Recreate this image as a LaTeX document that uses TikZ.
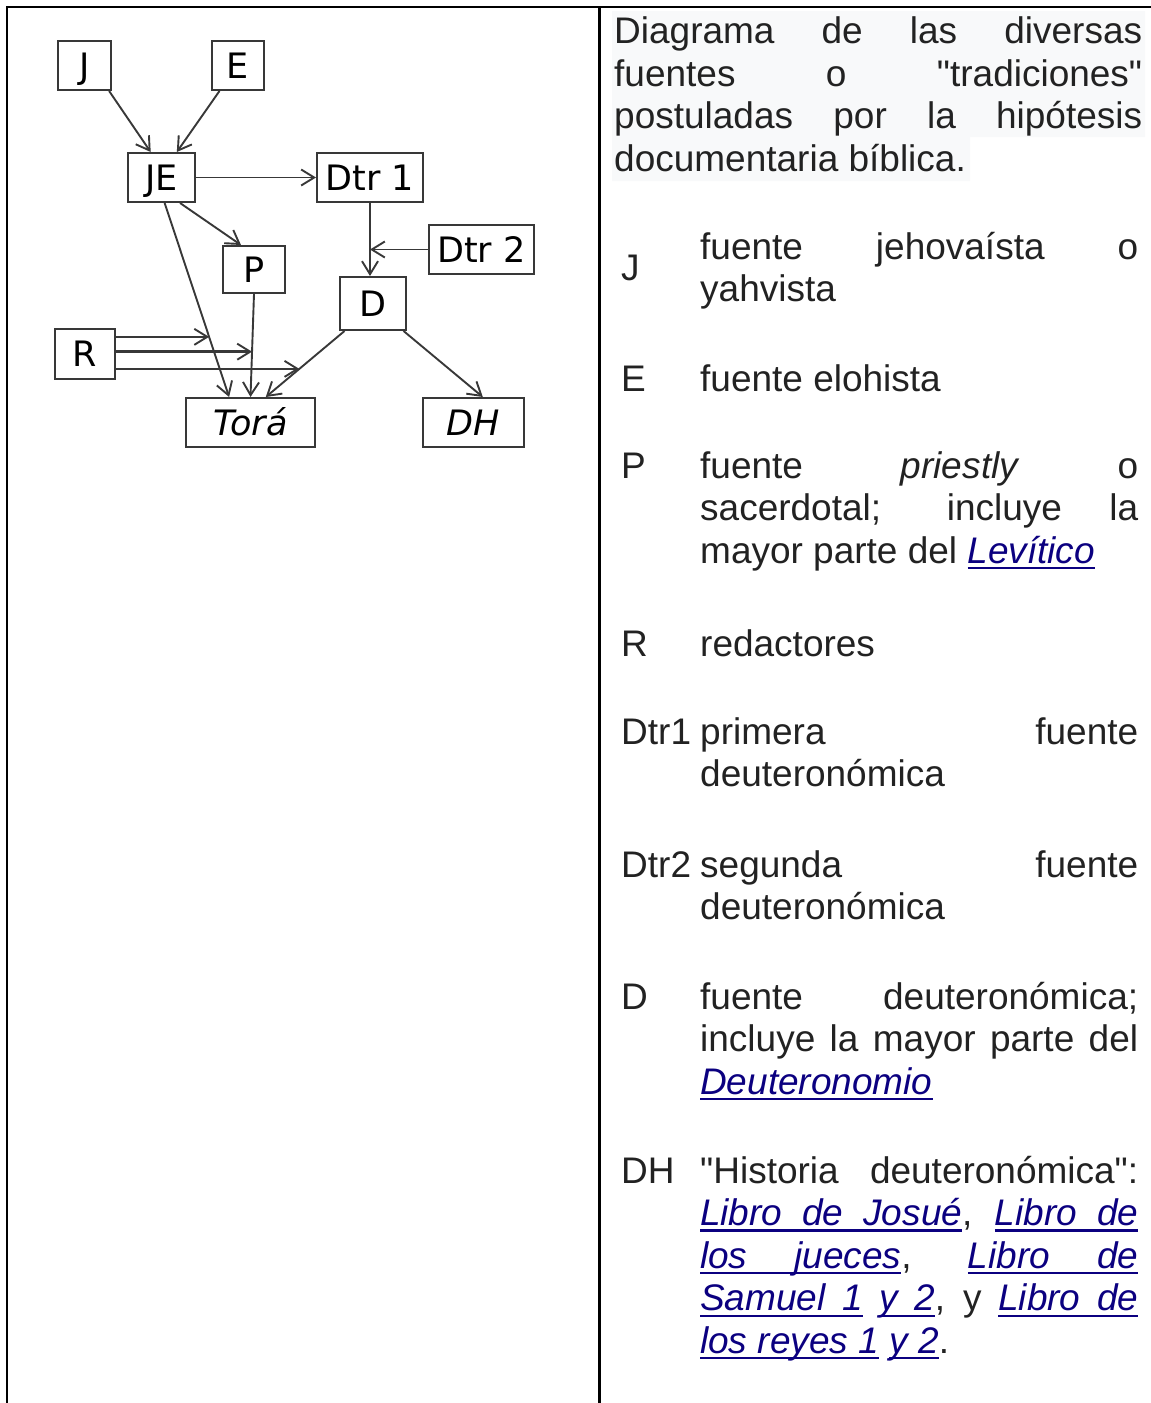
\documentclass[tikz,border=0pt]{standalone}
\usepackage{fontspec}
\setmainfont{Liberation Sans}
\newfontfamily\txtfont{Liberation Sans}
\newfontfamily\diafont{DejaVu Sans}
\usetikzlibrary{arrows.meta,positioning}

\definecolor{txt}{HTML}{222222}
\definecolor{lnk}{HTML}{0B0080}
\definecolor{hl}{HTML}{F8F9FA}
\definecolor{ln}{HTML}{383838}

% underlined link words, spaces stay stretchable
\newcommand{\ulw}[1]{\setbox0\hbox{#1}\rlap{\vrule width\wd0 height -3.8pt depth 6pt}\box0}
\newcommand{\us}{\leaders\hrule height -3.8pt depth 6pt\hskip\fontdimen2\font plus\fontdimen3\font minus\fontdimen4\font}
\def\ulwords#1 #2\relax{\ulw{#1}\ifx\relax#2\relax\else\us\ulwords#2\relax\fi}
\newcommand{\lnk}[1]{{\color{lnk}\itshape\ulwords#1 \relax}}
\newcommand{\jl}[1]{\makebox[\linewidth][s]{#1}}
\newcommand{\desc}[2]{\begin{minipage}[t]{#1}#2\end{minipage}}

\tikzset{
	box/.style={draw=ln,line width=2pt,rectangle,inner sep=0pt,
		font=\diafont\fontsize{35}{40}\selectfont,text height=25.5pt,text depth=0pt},
	arr/.style={draw=ln,line width=1.9pt,
		-{Straight Barb[length=13pt,width=16pt,line width=1.9pt]}},
	lbl/.style={anchor=base west,inner sep=0pt,text=txt,
		font=\txtfont\fontsize{37}{42.6}\selectfont},
	rule/.style={line width=2.5pt,black}
}

\begin{document}
\begin{tikzpicture}[x=1pt,y=-1pt]
\useasboundingbox (0,0) rectangle (1151,1403);
%Tabelle
\fill[hl] (612,11) -- (1145,11) -- (1145,137) -- (970,137) -- (970,181) -- (612,181) -- cycle;
\draw[rule] (6,7) -- (1151,7);
\draw[rule] (7,6) -- (7,1403);
\draw[rule] (599.5,6) -- (599.5,1403);
%Diagramm
\node[box,minimum width=53pt,minimum height=49pt] (J) at (84.5,65.5) {J};
\node[box,minimum width=52pt,minimum height=49pt] (E) at (238,65.5) {E};
\node[box,minimum width=67pt,minimum height=49pt] (JE) at (161.5,177.5) {JE};
\node[box,minimum width=106pt,minimum height=49pt] (Dtr1) at (370,177.5) {Dtr 1};
\node[box,minimum width=105pt,minimum height=49pt] (Dtr2) at (481.5,249.5) {Dtr 2};
\node[box,minimum width=62pt,minimum height=47pt] (P) at (254,269.5) {P};
\node[box,minimum width=66pt,minimum height=53pt] (D) at (373,303.5) {D};
\node[box,minimum width=60pt,minimum height=50pt] (R) at (85,354) {R};
\node[box,minimum width=129pt,minimum height=49pt] (Tora) at (250.5,422.5) {\itshape Torá};
\node[box,minimum width=101pt,minimum height=49pt] (DH) at (473.5,422.5) {\itshape DH};
\coordinate (dm) at (Dtr1.south |- Dtr2.west);
\draw[arr] (J.-46) -- (JE.113);
\draw[arr] (E.-126) -- (JE.59);
\draw[arr] (JE.east) -- (Dtr1.west);
\draw[arr] (JE.-54) -- (P.118);
\draw[arr] (JE.-83) -- coordinate[pos=0.69] (r1) (Tora.130);
\draw[arr] (P.south) -- coordinate[pos=0.56] (r2) (Tora.north);
\draw[arr] (Dtr1.south) -- (Dtr1.south |- D.north);
\draw[arr] (Dtr2.west) -- (dm);
\draw[arr] (D.-136) -- coordinate[pos=0.574] (r3) (Tora.59);
\draw[arr] (D.-42) -- (DH.70);
\draw[arr,line width=2.4pt] (R.east |- r1) -- (r1);
\draw[arr,line width=2.4pt] (R.east |- r2) -- (r2);
\draw[arr] (R.east |- r3) -- (r3);
%Legende
\node[lbl] (intro) at (614,43.5) {\desc{528pt}{\jl{Diagrama de las diversas}\\
	\jl{fuentes o "tradiciones"}\\
	\jl{postuladas por la hipótesis}\\
	documentaria bíblica.}};
\node[lbl] (kJ) at (621,280) {J};
\node[lbl] (dJ) at (700,259) {\desc{438pt}{\jl{fuente jehovaísta o}\\yahvista}};
\node[lbl] (kE) at (621,391) {E};
\node[lbl] (dE) at (700,391) {fuente elohista};
\node[lbl] (kP) at (621,478) {P};
\node[lbl] (dP) at (700,478) {\desc{438pt}{\jl{fuente \textit{priestly} o}\\
	\jl{sacerdotal; incluye la}\\
	mayor parte del \lnk{Levítico}}};
\node[lbl] (kR) at (621,656) {R};
\node[lbl] (dR) at (700,656) {redactores};
\node[lbl] (kDtr1) at (621,744) {Dtr1};
\node[lbl] (dDtr1) at (700,744) {\desc{438pt}{\jl{primera fuente}\\deuteronómica}};
\node[lbl] (kDtr2) at (621,877) {Dtr2};
\node[lbl] (dDtr2) at (700,877) {\desc{438pt}{\jl{segunda fuente}\\deuteronómica}};
\node[lbl] (kD) at (621,1009) {D};
\node[lbl] (dD) at (700,1009) {\desc{438pt}{\jl{fuente deuteronómica;}\\
	\jl{incluye la mayor parte del}\\
	\lnk{Deuteronomio}}};
\node[lbl] (kDH) at (621,1183) {DH};
\node[lbl] (dDH) at (700,1183) {\desc{438pt}{\jl{"Historia deuteronómica":}\\
	\jl{\lnk{Libro de Josué}, \lnk{Libro de}}\\
	\jl{\lnk{los jueces}, \lnk{Libro de}}\\
	\jl{\lnk{Samuel 1} \lnk{y 2}, y \lnk{Libro de}}\\
	\lnk{los reyes 1} \lnk{y 2}.}};
\end{tikzpicture}
\end{document}
